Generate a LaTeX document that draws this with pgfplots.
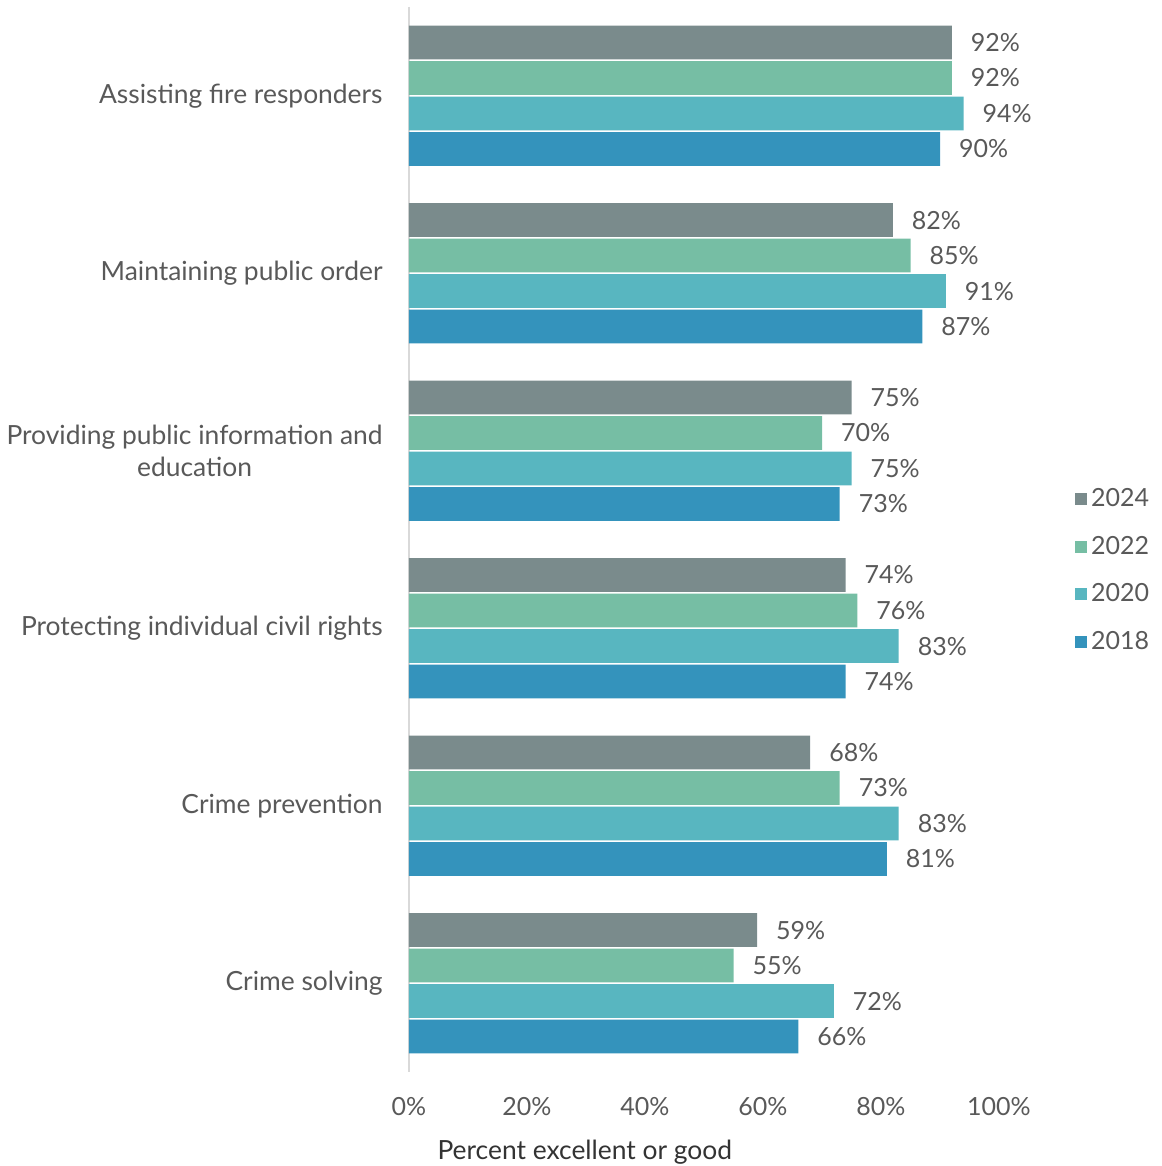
\documentclass[border=0pt]{standalone}
\usepackage{fontspec}
\setmainfont{Lato}
\usepackage{pgfplots}
\pgfplotsset{compat=1.18}
\usepackage{pgfplotstable}

\definecolor{c2024}{HTML}{7A8B8C}
\definecolor{c2022}{HTML}{76BEA4}
\definecolor{c2020}{HTML}{58B6C0}
\definecolor{c2018}{HTML}{3493BC}
\definecolor{txt}{HTML}{595959}

% y: 0 = Assisting fire responders ... 5 = Crime solving
\pgfplotstableread{
y v2024 v2022 v2020 v2018
0 92 92 94 90
1 82 85 91 87
2 75 70 75 73
3 74 76 83 74
4 68 73 83 81
5 59 55 72 66
}\datatable

\begin{document}
\begin{tikzpicture}[font=\fontsize{13.2}{16}\selectfont]
\begin{axis}[
  name=ax,
  scale only axis,
  width=295pt, height=532.5pt,
  xmin=0, xmax=100,
  ymin=-0.5, ymax=5.5,
  y dir=reverse,
  clip=false,
  /pgf/number format/assume math mode=true,
  axis y line*=left,
  axis x line*=bottom,
  x axis line style={draw=none},
  y axis line style={-, draw=black!15, line width=1pt},
  major tick length=0pt,
  xtick={0,20,...,100},
  xticklabel={\pgfmathprintnumber{\tick}\%},
  xticklabel style={text=txt, font=\fontsize{12.5}{15}\selectfont, anchor=center, yshift=-17.5pt},
  ytick={0,...,5},
  yticklabels={Assisting fire responders, Maintaining public order,
    {Providing public information and\\education},
    Protecting individual civil rights, Crime prevention, Crime solving},
  yticklabel style={text=txt, align=center, inner sep=0pt, xshift=-13pt},
  xlabel={Percent excellent or good},
  xlabel style={text=black!80, at={(axis description cs:0.298,0)}, anchor=center, inner sep=0pt, yshift=-40pt},
  bar width=0.19,
  nodes near coords={\pgfmathprintnumber{\pgfplotspointmeta}\%},
  point meta=x,
  every node near coord/.append style={text=txt, font=\fontsize{12.5}{15}\selectfont, anchor=west, xshift=6pt},
  legend image code/.code={\fill[#1] (0pt,-3pt) rectangle (6pt,3pt);},
  legend style={at={(1.118,0.556)}, anchor=north west, draw=none, fill=none,
    text=txt, row sep=9.3pt, font=\fontsize{12.5}{15}\selectfont},
  legend cell align=left,
]
\addplot[xbar, fill=c2024, draw=none, bar shift=-0.3,
  every node near coord/.append style={yshift=26.6pt}] table[x=v2024, y=y] {\datatable};
\addplot[xbar, fill=c2022, draw=none, bar shift=-0.1,
  every node near coord/.append style={yshift=8.9pt}] table[x=v2022, y=y] {\datatable};
\addplot[xbar, fill=c2020, draw=none, bar shift=0.1,
  every node near coord/.append style={yshift=-8.9pt}] table[x=v2020, y=y] {\datatable};
\addplot[xbar, fill=c2018, draw=none, bar shift=0.3,
  every node near coord/.append style={yshift=-26.6pt}] table[x=v2018, y=y] {\datatable};
\legend{2024, 2022, 2020, 2018}
\end{axis}
\pgfresetboundingbox
\path ([xshift=-204.5pt, yshift=3.5pt]ax.north west) rectangle ([xshift=376pt, yshift=-579.5pt]ax.north west);
\end{tikzpicture}
\end{document}
